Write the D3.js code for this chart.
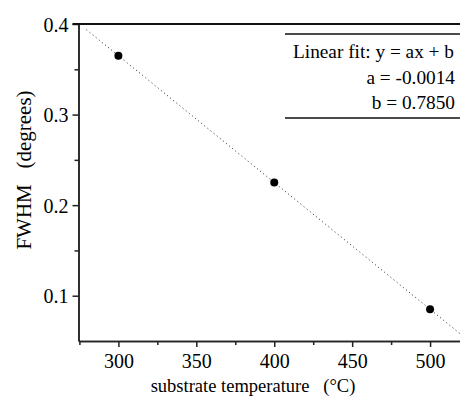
<!DOCTYPE html>
<html><head><meta charset="utf-8">
<script src="https://cdn.jsdelivr.net/npm/d3@7"></script>
<style>
body{margin:0;background:#fff;}
svg text{font-family:"Liberation Serif","Times New Roman",serif !important;fill:#000 !important;}
</style></head>
<body><svg id="c" width="460" height="396"></svg>
<script>
const temps = [300, 400, 500];
const fwhm = [0.365, 0.225, 0.085];
const fitA = -0.0014, fitB = 0.7850;
const fitRange = [279.5, 520];
const xTicks = [300, 350, 400, 450, 500];
const xMinor = [275, 325, 375, 425, 475, 525];
const yTicks = [0.1, 0.2, 0.3, 0.4];
const yMinor = [0.15, 0.25, 0.35];
const legendLines = ["Linear fit: y = ax + b", "a = -0.0014", "b = 0.7850"];

const svg = d3.select("#c");
const L = 78.5, R = 460, T = 24, B = 341;
const x = d3.scaleLinear().domain([274.4, 519.2]).range([L, R]);
const y = d3.scaleLinear().domain([0.05, 0.4]).range([B, T]);

// fit line
svg.append("line")
  .attr("x1", x(fitRange[0])).attr("y1", y(fitA*fitRange[0]+fitB))
  .attr("x2", x(fitRange[1])).attr("y2", y(fitA*fitRange[1]+fitB))
  .attr("stroke", "#222").attr("stroke-width", 1).attr("stroke-dasharray", "1,3");

// points
svg.selectAll("circle.pt").data(temps).enter().append("circle")
  .attr("cx", (d)=>x(d)).attr("cy", (d,i)=>y(fwhm[i])).attr("r", 4).attr("fill", "#000");

// axes
const gx = svg.append("g").attr("transform", `translate(0,${B})`)
  .call(d3.axisBottom(x).tickValues(xTicks).tickSize(6).tickPadding(7).tickSizeOuter(0));
const gxm = svg.append("g").attr("transform", `translate(0,${B})`)
  .call(d3.axisBottom(x).tickValues(xMinor.filter(v=>v<519)).tickSize(4).tickFormat("").tickSizeOuter(0));
const gy = svg.append("g").attr("transform", `translate(${L},0)`)
  .call(d3.axisLeft(y).tickValues(yTicks).tickSize(6).tickPadding(4).tickSizeOuter(0).tickFormat(d3.format(".1f")));
const gym = svg.append("g").attr("transform", `translate(${L},0)`)
  .call(d3.axisLeft(y).tickValues(yMinor).tickSize(4).tickFormat("").tickSizeOuter(0));
[gx, gxm, gy, gym].forEach(g => {
  g.attr("font-family", null).attr("font-size", null);
  g.selectAll("path.domain").attr("stroke", "#222").attr("stroke-width", 1.5);
  g.selectAll("line").attr("stroke", "#222").attr("stroke-width", 1.5);
  g.selectAll("text").style("font-size", "20px").attr("fill", "#000");
});
gy.selectAll("text").attr("dy", "0.35em");

// top line
svg.append("line").attr("x1", L-6).attr("x2", R).attr("y1", T).attr("y2", T)
  .attr("stroke", "#111").attr("stroke-width", 2);

// legend box lines
svg.append("line").attr("x1", 285).attr("x2", R).attr("y1", 34).attr("y2", 34).attr("stroke", "#111").attr("stroke-width", 1.5);
svg.append("line").attr("x1", 285).attr("x2", R).attr("y1", 118).attr("y2", 118).attr("stroke", "#111").attr("stroke-width", 1.5);
svg.append("text").attr("x", 293).attr("y", 58).style("font-size", "19.3px").text(legendLines[0]);
svg.append("text").attr("x", 455).attr("y", 84).style("font-size", "19.3px").attr("text-anchor", "end").text(legendLines[1]);
svg.append("text").attr("x", 455).attr("y", 109).style("font-size", "19.3px").attr("text-anchor", "end").text(legendLines[2]);

// axis titles
svg.append("text").attr("x", 253).attr("y", 392).style("font-size", "18.5px").attr("text-anchor", "middle")
  .style("white-space", "pre").text("substrate temperature   (°C)");
svg.append("text").attr("transform", "translate(31,170) rotate(-90)").style("font-size", "21px")
  .attr("text-anchor", "middle").style("white-space", "pre").text("FWHM   (degrees)");
</script></body></html>
